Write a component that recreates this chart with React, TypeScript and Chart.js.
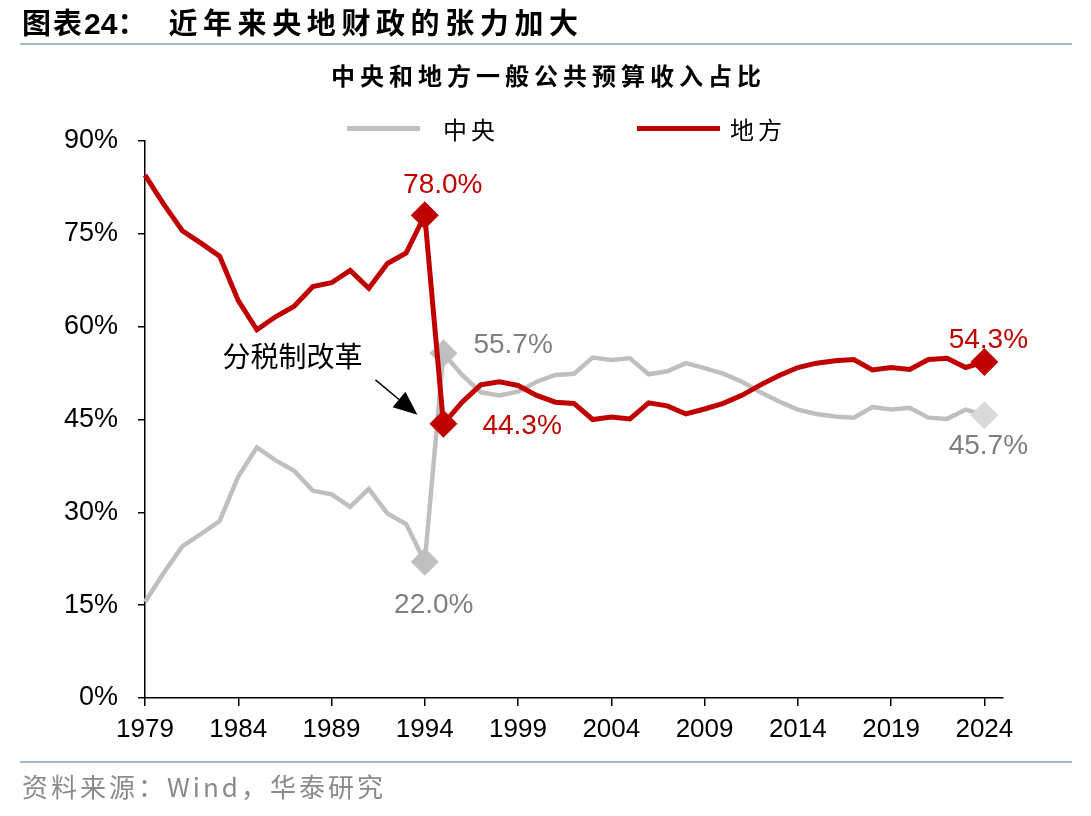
import React, { useEffect, useRef } from "react";
import { Chart, registerables } from "chart.js";

Chart.register(...registerables);

// ---- data ----
const years = [
  1979, 1980, 1981, 1982, 1983, 1984, 1985, 1986, 1987, 1988,
  1989, 1990, 1991, 1992, 1993, 1994, 1995, 1996, 1997, 1998,
  1999, 2000, 2001, 2002, 2003, 2004, 2005, 2006, 2007, 2008,
  2009, 2010, 2011, 2012, 2013, 2014, 2015, 2016, 2017, 2018,
  2019, 2020, 2021, 2022, 2023, 2024,
];
const centralShare = [
  15.5, 20.2, 24.5, 26.5, 28.6, 35.8, 40.5, 38.4, 36.7, 33.5,
  32.9, 30.9, 33.8, 29.8, 28.1, 22.0, 55.7, 52.2, 49.4, 48.9,
  49.5, 51.1, 52.2, 52.4, 55.0, 54.6, 54.9, 52.3, 52.8, 54.1,
  53.3, 52.4, 51.1, 49.4, 47.9, 46.6, 45.9, 45.5, 45.3, 47.0,
  46.6, 46.9, 45.3, 45.1, 46.6, 45.7,
];
const localShare = [
  84.5, 79.8, 75.5, 73.5, 71.4, 64.2, 59.5, 61.6, 63.3, 66.5,
  67.1, 69.1, 66.2, 70.2, 71.9, 78.0, 44.3, 47.8, 50.6, 51.1,
  50.5, 48.9, 47.8, 47.6, 45.0, 45.4, 45.1, 47.7, 47.2, 45.9,
  46.7, 47.6, 48.9, 50.6, 52.1, 53.4, 54.1, 54.5, 54.7, 53.0,
  53.4, 53.1, 54.7, 54.9, 53.4, 54.3,
];
const xTickYears = [1979, 1984, 1989, 1994, 1999, 2004, 2009, 2014, 2019, 2024];
const markerYears = [1994, 1995, 2024];
const seriesNames = ["中央", "地方"];
const titleText = "近年来央地财政的张力加大";
const subtitleText = "中央和地方一般公共预算收入占比";
const sourceText = "资料来源：Wind，华泰研究";
const annotationText = "分税制改革";

// ---- styles ----
const RED = "#C00000";
const GRAY = "#BFBFBF";
const GRAY_LIGHT = "#D9D9D9";
const GRAY_TEXT = "#7F7F7F";
const RULE = "#A3B9D1";
const NUM_FONT = '"Liberation Sans", Arial, sans-serif';
const CJK_FONT = '"Noto Sans CJK SC", "Noto Sans", sans-serif';

// label placements (pixel offsets from the data point)
const valueLabels = [
  { series: 1, year: 1994, dx: 18, dy: -30, align: "center", color: RED },
  { series: 0, year: 1995, dx: 30, dy: -8, align: "left", color: GRAY_TEXT },
  { series: 1, year: 1995, dx: 39, dy: 2, align: "left", color: RED },
  { series: 1, year: 2024, dx: 4, dy: -22, align: "center", color: RED },
  { series: 0, year: 2024, dx: 4, dy: 31, align: "center", color: GRAY_TEXT },
  { series: 0, year: 1994, dx: 9, dy: 43, align: "center", color: GRAY_TEXT },
];

const labelPlugin = {
  id: "valueLabels",
  afterDatasetsDraw(chart: any) {
    const ctx = chart.ctx;
    const xs = chart.scales.x;
    const ys = chart.scales.y;
    ctx.save();
    ctx.font = `28px ${NUM_FONT}`;
    ctx.textBaseline = "middle";
    valueLabels.forEach((l) => {
      const arr = l.series === 0 ? centralShare : localShare;
      const v = arr[years.indexOf(l.year)];
      const px = xs.getPixelForValue(l.year);
      const py = ys.getPixelForValue(v);
      ctx.fillStyle = l.color;
      ctx.textAlign = l.align;
      ctx.fillText(v.toFixed(1) + "%", px + l.dx, py + l.dy);
    });

    // annotation with arrow
    const idx = years.indexOf(1995);
    const ax = xs.getPixelForValue(1995);
    const ay = ys.getPixelForValue(localShare[idx]);
    ctx.font = `28px ${CJK_FONT}`;
    ctx.fillStyle = "#000";
    ctx.textAlign = "center";
    ctx.fillText(annotationText, ax - 151, ay - 67);

    const tx = ax - 68, ty = ay - 44;
    const hx = ax - 26, hy = ay - 9;
    const ang = Math.atan2(hy - ty, hx - tx);
    const hl = 24, hw = 10;
    const bx = hx - hl * Math.cos(ang);
    const by = hy - hl * Math.sin(ang);
    ctx.strokeStyle = "#000";
    ctx.lineWidth = 1.5;
    ctx.beginPath();
    ctx.moveTo(tx, ty);
    ctx.lineTo(bx, by);
    ctx.stroke();
    ctx.beginPath();
    ctx.moveTo(hx, hy);
    ctx.lineTo(bx + hw * Math.sin(ang), by - hw * Math.cos(ang));
    ctx.lineTo(bx - hw * Math.sin(ang), by + hw * Math.cos(ang));
    ctx.closePath();
    ctx.fill();
    ctx.restore();
  },
};

export default function App() {
  const canvasRef = useRef<HTMLCanvasElement | null>(null);

  useEffect(() => {
    if (!canvasRef.current) return;
    const radii = years.map((y) => (markerYears.includes(y) ? 14 : 0));
    const grayColors = years.map((y) => (y === 2024 ? GRAY_LIGHT : GRAY));
    const chart = new Chart(canvasRef.current, {
      type: "line",
      data: {
        datasets: [
          {
            label: seriesNames[1],
            data: years.map((y, i) => ({ x: y, y: localShare[i] })),
            borderColor: RED,
            backgroundColor: RED,
            borderWidth: 5,
            tension: 0,
            pointStyle: "rectRot",
            pointRadius: radii,
            pointBackgroundColor: RED,
            pointBorderWidth: 0,
            clip: false,
          },
          {
            label: seriesNames[0],
            data: years.map((y, i) => ({ x: y, y: centralShare[i] })),
            borderColor: GRAY,
            backgroundColor: GRAY,
            borderWidth: 4.5,
            tension: 0,
            pointStyle: "rectRot",
            pointRadius: radii,
            pointBackgroundColor: grayColors,
            pointBorderWidth: 0,
            clip: false,
          },
        ],
      },
      options: {
        responsive: false,
        animation: false,
        events: [],
        layout: { padding: { left: 0, right: 88, top: 141, bottom: 0 } },
        plugins: {
          legend: { display: false },
          title: { display: false },
          tooltip: { enabled: false },
        },
        scales: {
          x: {
            type: "linear",
            min: 1979,
            max: 2025,
            afterBuildTicks: (s: any) => {
              s.ticks = xTickYears.map((v) => ({ value: v }));
            },
            afterFit: (s: any) => {
              s.height = 118;
            },
            grid: {
              display: true,
              drawOnChartArea: false,
              drawTicks: true,
              tickLength: 8,
              color: "#000",
              lineWidth: 1.5,
            },
            border: { display: true, color: "#000", width: 1.5 },
            ticks: {
              autoSkip: false,
              maxRotation: 0,
              padding: 8,
              color: "#000",
              font: { family: NUM_FONT, size: 26 },
              callback: (v: any) => String(v),
            },
          },
          y: {
            min: 0,
            max: 90,
            afterBuildTicks: (s: any) => {
              const t = [];
              for (let v = 0; v <= 90; v += 15) t.push({ value: v });
              s.ticks = t;
            },
            afterFit: (s: any) => {
              s.width = 145;
            },
            grid: {
              display: true,
              drawOnChartArea: false,
              drawTicks: true,
              tickLength: 7,
              color: "#000",
              lineWidth: 1.5,
            },
            border: { display: true, color: "#000", width: 1.5 },
            ticks: {
              padding: 20,
              color: "#000",
              font: { family: NUM_FONT, size: 27 },
              callback: (v: any) => v + "%",
            },
          },
        },
      },
      plugins: [labelPlugin],
    });
    return () => chart.destroy();
  }, []);

  return (
    <div
      style={{
        position: "fixed",
        left: 0,
        top: 0,
        width: 1091,
        height: 816,
        background: "#fff",
        overflow: "hidden",
      }}
    >
      <canvas
        ref={canvasRef}
        width={1091}
        height={816}
        style={{ position: "absolute", left: 0, top: 0, width: 1091, height: 816 }}
      />
      {/* title */}
      <div
        style={{
          position: "absolute",
          left: 22,
          top: 0,
          height: 42,
          lineHeight: "42px",
          fontFamily: CJK_FONT,
          fontWeight: 700,
          fontSize: 29,
          color: "#000",
          whiteSpace: "nowrap",
        }}
      >
        <span style={{ letterSpacing: 2 }}>图表</span>
        <span style={{ fontFamily: NUM_FONT, fontSize: 30 }}>24</span>
        <span>：</span>
        <span style={{ marginLeft: 22, letterSpacing: 5.6 }}>{titleText}</span>
      </div>
      <div
        style={{
          position: "absolute",
          left: 20,
          top: 43,
          width: 1052,
          height: 2,
          background: RULE,
        }}
      />
      {/* subtitle */}
      <div
        style={{
          position: "absolute",
          left: 0,
          width: 1097,
          top: 58,
          textAlign: "center",
          fontFamily: CJK_FONT,
          fontWeight: 700,
          fontSize: 24,
          letterSpacing: 5,
          lineHeight: "34px",
          color: "#000",
          whiteSpace: "nowrap",
        }}
      >
        {subtitleText}
      </div>
      {/* legend */}
      <div style={{ position: "absolute", left: 347, top: 126, width: 73, height: 5, background: GRAY }} />
      <div
        style={{
          position: "absolute",
          left: 443,
          top: 112,
          lineHeight: "34px",
          fontFamily: CJK_FONT,
          fontSize: 24,
          letterSpacing: 4,
          color: "#000",
        }}
      >
        {seriesNames[0]}
      </div>
      <div style={{ position: "absolute", left: 637, top: 126, width: 83, height: 5, background: RED }} />
      <div
        style={{
          position: "absolute",
          left: 730,
          top: 112,
          lineHeight: "34px",
          fontFamily: CJK_FONT,
          fontSize: 24,
          letterSpacing: 4,
          color: "#000",
        }}
      >
        {seriesNames[1]}
      </div>
      {/* bottom rule + source */}
      <div
        style={{
          position: "absolute",
          left: 20,
          top: 761,
          width: 1052,
          height: 2,
          background: RULE,
        }}
      />
      <div
        style={{
          position: "absolute",
          left: 22,
          top: 769,
          lineHeight: "34px",
          fontFamily: CJK_FONT,
          fontSize: 26,
          letterSpacing: 3,
          color: "#8A8A8A",
          whiteSpace: "nowrap",
        }}
      >
        {sourceText}
      </div>
    </div>
  );
}
